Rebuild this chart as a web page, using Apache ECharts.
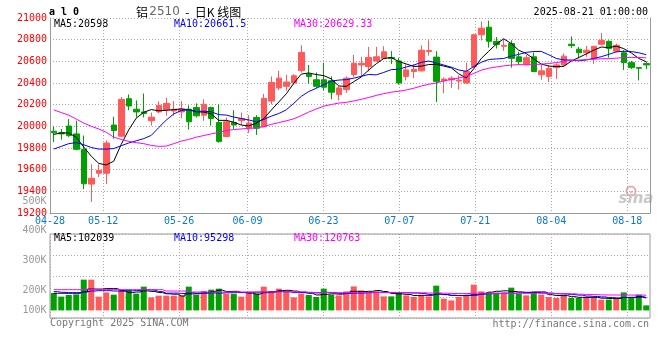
<!DOCTYPE html>
<html><head><meta charset="utf-8">
<script src="https://cdn.jsdelivr.net/npm/echarts@6/dist/echarts.min.js"></script>
<style>html,body{margin:0;padding:0;background:#fff}#c{width:660px;height:360px}</style>
</head><body><div id="c"></div>
<script>
// ---------- data ----------
const dates = ['04-28','04-29','04-30','05-06','05-07','05-08','05-09','05-12','05-13','05-14','05-15','05-16','05-19','05-20','05-21','05-22','05-23','05-26','05-27','05-28','05-29','05-30','06-03','06-04','06-05','06-06','06-09','06-10','06-11','06-12','06-13','06-16','06-17','06-18','06-19','06-20','06-23','06-24','06-25','06-26','06-27','06-30','07-01','07-02','07-03','07-04','07-07','07-08','07-09','07-10','07-11','07-14','07-15','07-16','07-17','07-18','07-21','07-22','07-23','07-24','07-25','07-28','07-29','07-30','07-31','08-01','08-04','08-05','08-06','08-07','08-08','08-11','08-12','08-13','08-14','08-15','08-18','08-19','08-20','08-21'];
const opens = [19955,19941,20003,19930,19788,19467,19567,19567,20012,19909,20255,20158,20133,20052,20133,20152,20142,20133,20158,20173,20103,20173,20036,19906,20036,20052,19982,20082,19997,20233,20355,20370,20400,20515,20482,20430,20430,20421,20294,20339,20478,20567,20552,20603,20627,20636,20603,20461,20506,20512,20691,20639,20421,20430,20418,20400,20552,20845,20915,20785,20739,20764,20642,20573,20642,20476,20461,20542,20567,20758,20712,20679,20627,20758,20785,20694,20679,20588,20542,20579];
const closes = [19940,19930,19915,19788,19470,19521,19594,19846,19961,20249,20188,20133,20118,20085,20194,20212,20158,20158,20042,20097,20203,20073,19861,20042,20012,20073,20030,19982,20258,20406,20445,20409,20467,20682,20461,20370,20361,20315,20355,20445,20583,20582,20636,20642,20688,20627,20400,20521,20527,20703,20700,20415,20436,20445,20427,20506,20845,20906,20785,20755,20748,20627,20597,20633,20506,20512,20536,20567,20648,20745,20679,20703,20739,20794,20718,20748,20588,20542,20536,20567];
const lows = [19855,19878,19900,19779,19421,19303,19530,19467,19885,19900,20149,20082,20082,20006,20121,20097,20097,20073,19970,20082,20052,20006,19849,19900,19976,20012,19939,19921,19991,20203,20333,20330,20385,20497,20394,20355,20333,20249,20239,20309,20456,20461,20506,20597,20627,20576,20385,20424,20445,20506,20652,20224,20306,20355,20339,20394,20536,20794,20727,20718,20697,20542,20567,20561,20500,20430,20409,20436,20552,20724,20627,20642,20576,20748,20633,20682,20521,20530,20424,20527];
const highs = [20000,19975,20067,20052,19915,19649,19649,19870,20088,20270,20294,20239,20303,20127,20230,20264,20233,20233,20194,20212,20249,20182,20203,20082,20149,20127,20103,20103,20300,20461,20512,20476,20482,20748,20567,20497,20588,20461,20370,20461,20660,20642,20733,20733,20739,20694,20633,20573,20573,20748,20794,20694,20452,20461,20470,20588,20855,20967,20976,20824,20809,20794,20688,20658,20682,20567,20567,20582,20673,20830,20733,20742,20739,20861,20794,20764,20703,20603,20542,20597];
const volumes = [139000,110000,123000,128000,246000,246000,110000,144000,126000,166000,166000,134000,190000,104000,118000,118000,118000,118000,190000,126000,155000,166000,174000,134000,134000,110000,139000,134000,190000,155000,174000,150000,104000,134000,123000,107000,174000,126000,120000,152000,192000,160000,139000,152000,112000,112000,144000,120000,107000,120000,112000,198000,94000,80000,107000,123000,206000,152000,142000,142000,142000,182000,131000,120000,142000,126000,107000,99000,118000,99000,99000,107000,99000,86000,86000,99000,144000,104000,126000,40000];
// moving-average values before a full window exists
const ma5Head = [19925,19940,19938,19900];
const ma10Head = [19790,19815,19840,19850,19830,19805,19790,19790,19795];
const ma30Head = [20152,20127,20103,20067,20030,20000,19976,19945,19900,19879,19861,19849,19840,19824,19815,19818,19840,19864,19879,19900,19915,19930,19945,19961,19970,19976,19982,19985,19997];
const vma5Head = [137000,137000,137000,137000];
const vma10Head = [150000,145000,142000,142000,148000,155000,158000,158000,155000];
const vma30Head = [166000,166000,166000,166000,166000,166000,166000,166000,166000,166000,166000,166000,166000,166000,166000,155000,155000,155000,147000,147000,147000,147000,147000,147000,147000,147000,147000,147000,147000];
const labelDates = ['04-28','05-12','05-26','06-09','06-23','07-07','07-21','08-04','08-18'];
const priceMin = 19200, priceMax = 21000, priceStep = 200;
const volTickLabels = ['500K','400K','300K','200K','100K'];
const priceMaLegend = ['MA5:20598','MA10:20661.5','MA30:20629.33'];
const volMaLegend = ['MA5:102039','MA10:95298','MA30:120763'];
const symbolText = 'a l 0';
const stampText = '2025-08-21 01:00:00';

// ---------- helpers ----------
function movingAvg(vals, n, head) {
  return vals.map((v, i) => {
    if (i < n - 1) return head[i];
    let s = 0; for (let k = i - n + 1; k <= i; k++) s += vals[k];
    return +(s / n).toFixed(2);
  });
}
const UP = '#ff5a5a', DOWN = '#00a000';
const MONO = '"DejaVu Sans Mono", monospace';
const GRIDC = '#a8a8a8', BORDER = '#999';
const showDate = (idx, val) => labelDates.indexOf(val) >= 0;

const candle = dates.map((d, i) => [opens[i], closes[i], lows[i], highs[i]]);
const volBars = volumes.map((v, i) => ({ value: v, itemStyle: { color: closes[i] >= opens[i] ? UP : DOWN } }));

const chart = echarts.init(document.getElementById('c'), null, { renderer: 'canvas' });

function txt(text, x, y, fill, align, font) {
  return { type: 'text', silent: true, style: { text, x, y, fill, font: font || ('10px ' + MONO),
    textAlign: align || 'left', align: align || 'left', textVerticalAlign: 'middle', verticalAlign: 'middle' } };
}
const legendColors = ['#000000', '#0000ff', '#ff00ff'];
const legendX = [54, 174, 294];
const volLabelY = [201, 230.7, 260.7, 290.7, 310];

const graphics = [
  txt(symbolText, 49, 12.5, '#000', 'left', 'bold 10px ' + MONO),
  { type: 'text', silent: true, style: { x: 136, y: 12, textVerticalAlign: 'middle', verticalAlign: 'middle',
    text: '{a|铝}{s| }{b|2510}{a|  -  日K 线图}',
    rich: { a: { font: '12px "Noto Sans CJK SC"', fill: '#000' }, s: { font: '4px "DejaVu Sans"' },
            b: { font: '12px "DejaVu Sans"', fill: '#666' } } } },
  txt(stampText, 648, 12, '#000', 'right'),
  txt('Copyright 2025 SINA.COM', 50, 323.5, '#777', 'left'),
  txt('http://finance.sina.com.cn', 649, 324, '#777', 'right'),
  { type: 'circle', silent: true, shape: { cx: 631, cy: 191, r: 4.5 }, style: { fill: 'none', stroke: '#f2a8a8', lineWidth: 2 } },
  txt('sina', 636, 199.5, '#c8c8c8', 'center', 'italic bold 15px "DejaVu Sans"')
];
priceMaLegend.forEach((t, k) => graphics.push(txt(t, legendX[k], 24, legendColors[k])));
volMaLegend.forEach((t, k) => graphics.push(txt(t, legendX[k], 238.5, legendColors[k])));
volTickLabels.forEach((t, k) => graphics.push(txt(t, 46.5, volLabelY[k], '#999', 'right')));

const dotted = { color: GRIDC, type: [1, 2], width: 1 };

chart.setOption({
  animation: false,
  backgroundColor: '#fff',
  grid: [
    { left: 50, right: 10, top: 18, height: 195, show: false },
    { left: 50, right: 10, top: 234, height: 84, show: true, borderColor: BORDER, borderWidth: 1, backgroundColor: 'transparent' }
  ],
  xAxis: [
    { type: 'category', gridIndex: 0, data: dates, boundaryGap: true, show: false },
    { type: 'category', gridIndex: 0, data: dates, boundaryGap: false, position: 'bottom',
      axisLine: { show: true, lineStyle: { color: BORDER } }, axisTick: { show: false },
      axisLabel: { interval: showDate, color: '#0a78d0', fontSize: 10, fontFamily: MONO, margin: 3 },
      splitLine: { show: true, interval: showDate, lineStyle: dotted } },
    { type: 'category', gridIndex: 1, data: dates, boundaryGap: true, show: false },
    { type: 'category', gridIndex: 1, data: dates, boundaryGap: false, position: 'bottom',
      axisLine: { show: false }, axisTick: { show: false }, axisLabel: { show: false },
      splitLine: { show: true, interval: showDate, lineStyle: dotted } }
  ],
  yAxis: [
    { type: 'value', gridIndex: 0, min: priceMin, max: priceMax, interval: priceStep, position: 'left',
      axisLine: { show: true, lineStyle: { color: BORDER } }, axisTick: { show: false },
      axisLabel: { color: '#ff0000', fontSize: 10, fontFamily: MONO, margin: 3, formatter: v => String(v) },
      splitLine: { show: true, lineStyle: dotted } },
    { type: 'value', gridIndex: 0, min: priceMin, max: priceMax, position: 'right',
      axisLine: { show: true, lineStyle: { color: BORDER } }, axisTick: { show: false },
      axisLabel: { show: false }, splitLine: { show: false } },
    { type: 'value', gridIndex: 1, min: 0, max: 4, interval: 1,
      axisLine: { show: false }, axisTick: { show: false }, axisLabel: { show: false },
      splitLine: { show: true, lineStyle: dotted } },
    { type: 'value', gridIndex: 1, min: -60800, max: 611200, show: false, splitLine: { show: false } }
  ],
  graphic: graphics,
  series: [
    { type: 'candlestick', xAxisIndex: 0, yAxisIndex: 0, data: candle, barWidth: 6,
      itemStyle: { color: UP, color0: DOWN, borderColor: UP, borderColor0: DOWN, borderWidth: 1 } },
    { type: 'line', xAxisIndex: 0, yAxisIndex: 0, data: movingAvg(closes, 5, ma5Head), symbol: 'none',
      lineStyle: { color: '#000', width: 1 }, z: 3 },
    { type: 'line', xAxisIndex: 0, yAxisIndex: 0, data: movingAvg(closes, 10, ma10Head), symbol: 'none',
      lineStyle: { color: '#0000ff', width: 1 }, z: 3 },
    { type: 'line', xAxisIndex: 0, yAxisIndex: 0, data: movingAvg(closes, 30, ma30Head), symbol: 'none',
      lineStyle: { color: '#ff00ff', width: 1 }, z: 3 },
    { type: 'bar', xAxisIndex: 2, yAxisIndex: 3, data: volBars, barWidth: 6 },
    { type: 'line', xAxisIndex: 2, yAxisIndex: 3, data: movingAvg(volumes, 5, vma5Head), symbol: 'none', step: 'middle',
      lineStyle: { color: '#000', width: 1 }, z: 3 },
    { type: 'line', xAxisIndex: 2, yAxisIndex: 3, data: movingAvg(volumes, 10, vma10Head), symbol: 'none', step: 'middle',
      lineStyle: { color: '#0000ff', width: 1 }, z: 3 },
    { type: 'line', xAxisIndex: 2, yAxisIndex: 3, data: movingAvg(volumes, 30, vma30Head), symbol: 'none', step: 'middle',
      lineStyle: { color: '#ff00ff', width: 1 }, z: 3 }
  ]
});
</script></body></html>
